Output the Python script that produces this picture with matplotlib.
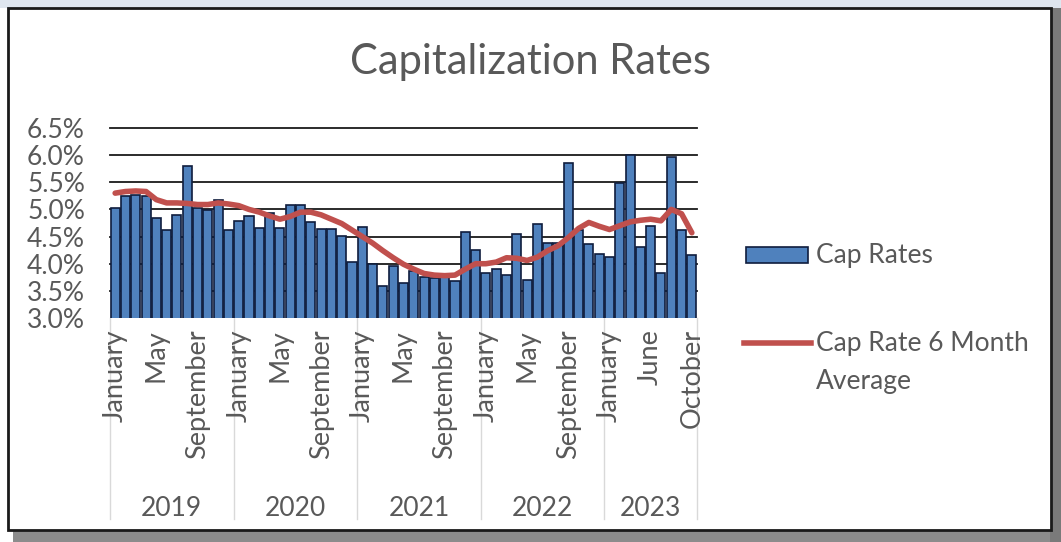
import numpy as np
import matplotlib.pyplot as plt
from matplotlib.patches import Rectangle
from matplotlib.lines import Line2D
from matplotlib.transforms import blended_transform_factory

plt.rcParams['font.family'] = ['Lato', 'DejaVu Sans']

# monthly series, Jan 2019 .. Oct 2023 (no May 2023 entry)
years = ['2019', '2020', '2021', '2022', '2023']
months_full = ['January', 'February', 'March', 'April', 'May', 'June', 'July',
               'August', 'September', 'October', 'November', 'December']
months_2023 = ['January', 'February', 'March', 'April', 'June', 'July',
               'August', 'September', 'October']

cap_rates = [5.03, 5.25, 5.27, 5.25, 4.84, 4.62, 4.89, 5.80, 5.03, 4.99, 5.17, 4.62,
             4.79, 4.87, 4.65, 4.93, 4.65, 5.08, 5.08, 4.76, 4.64, 4.64, 4.51, 4.03,
             4.67, 3.99, 3.59, 3.96, 3.64, 3.87, 3.76, 3.73, 3.76, 3.69, 4.59, 4.26,
             3.82, 3.91, 3.79, 4.55, 3.70, 4.73, 4.39, 4.39, 5.86, 4.62, 4.36, 4.18,
             4.13, 5.49, 6.01, 4.30, 4.69, 3.82, 5.97, 4.62, 4.16]

avg_6m = [5.30, 5.33, 5.34, 5.33, 5.18, 5.12, 5.12, 5.11, 5.09, 5.09, 5.12, 5.10,
          5.07, 5.00, 4.95, 4.88, 4.82, 4.87, 4.95, 4.95, 4.90, 4.82, 4.74, 4.62,
          4.50, 4.38, 4.24, 4.11, 3.99, 3.90, 3.82, 3.79, 3.78, 3.79, 3.90, 4.00,
          4.00, 4.03, 4.11, 4.10, 4.06, 4.12, 4.24, 4.33, 4.48, 4.65, 4.76, 4.69,
          4.63, 4.70, 4.77, 4.80, 4.82, 4.79, 5.00, 4.92, 4.57]

month_labels = months_full * 4 + months_2023
group_sizes = [12, 12, 12, 12, len(months_2023)]
yticks = [3.0, 3.5, 4.0, 4.5, 5.0, 5.5, 6.0, 6.5]

grey = '#595959'
bar_color = '#4f81bd'
bar_edge = '#0f1d3d'
line_color = '#c0504d'
x = np.arange(len(cap_rates))

W, H = 1061, 542
fig = plt.figure(figsize=(W / 100, H / 100), dpi=100)
fig.patch.set_facecolor('white')

# chart frame with shadow, kept behind the axes
frame = [
    Rectangle((0, 0.985), 1, 0.015, facecolor='#dfe6ef', edgecolor='none'),
    Rectangle((0.012, 0.0), 0.988, 0.03, facecolor='#8c8c8c', edgecolor='none'),
    Rectangle((0.99, 0.0), 0.01, 0.985, facecolor='#7a7a7a', edgecolor='none'),
    Rectangle((0.008, 0.022), 0.983, 0.963, facecolor='white', edgecolor='#1a1a1a',
              linewidth=2),
]
for i, p in enumerate(frame):
    p.set_transform(fig.transFigure)
    p.set_zorder(-10 + i)
    fig.patches.append(p)

ax = fig.add_axes([110 / W, 1 - 318 / H, 587 / W, 190 / H])
ax.set_facecolor('none')

for v in yticks[1:]:
    ax.axhline(v, color='#1a1a1a', linewidth=1.3, zorder=0, clip_on=False)

ax.bar(x, cap_rates, width=0.88, bottom=0, color=bar_color, edgecolor=bar_edge,
       linewidth=1.2, zorder=2)
ax.plot(x, avg_6m, color=line_color, linewidth=4, solid_capstyle='round', zorder=3)

ax.set_xlim(-0.5, len(cap_rates) - 0.5)
ax.set_ylim(3.0, 6.5)
ax.set_yticks(yticks)
ax.set_yticklabels([f'{v:.1f}%' for v in yticks], fontsize=19, color=grey)
ax.tick_params(axis='y', length=0, pad=18)

tick_pos = x[::4]
ax.set_xticks(tick_pos)
ax.set_xticklabels([month_labels[i] for i in tick_pos], rotation=90,
                   fontsize=19.5, color=grey, va='top', ha='center')
ax.tick_params(axis='x', length=0, pad=8)

for s in ax.spines.values():
    s.set_visible(False)

# year groups under the month labels
trans = blended_transform_factory(ax.transData, ax.transAxes)
edges = np.concatenate([[0], np.cumsum(group_sizes)]) - 0.5
for e in edges:
    ax.plot([e, e], [0, -1.06], color='#d9d9d9', linewidth=1, transform=trans,
            clip_on=False, zorder=1)
for yr, a, b in zip(years, edges[:-1], edges[1:]):
    ax.text((a + b) / 2, -1.0, yr, transform=trans, ha='center', va='center',
            fontsize=19, color=grey)

fig.text(0.5, 0.885, 'Capitalization Rates', ha='center', va='center',
         fontsize=30, color=grey)

# legend: key aligned with the first line of its label, as in Excel
fig.add_artist(Rectangle((746 / W, 1 - 263 / H), 62 / W, 16 / H,
                         transform=fig.transFigure, facecolor=bar_color,
                         edgecolor=bar_edge, linewidth=1.2))
fig.text(816 / W, 1 - 255 / H, 'Cap Rates', ha='left', va='center',
         fontsize=19, color=grey)
fig.add_artist(Line2D([744 / W, 811 / W], [1 - 343 / H, 1 - 343 / H],
                      transform=fig.transFigure, color=line_color, linewidth=4))
fig.text(816 / W, 1 - 343 / H, 'Cap Rate 6 Month', ha='left', va='center',
         fontsize=19, color=grey)
fig.text(816 / W, 1 - 381 / H, 'Average', ha='left', va='center',
         fontsize=19, color=grey)

fig.savefig('out.png', dpi=100)
